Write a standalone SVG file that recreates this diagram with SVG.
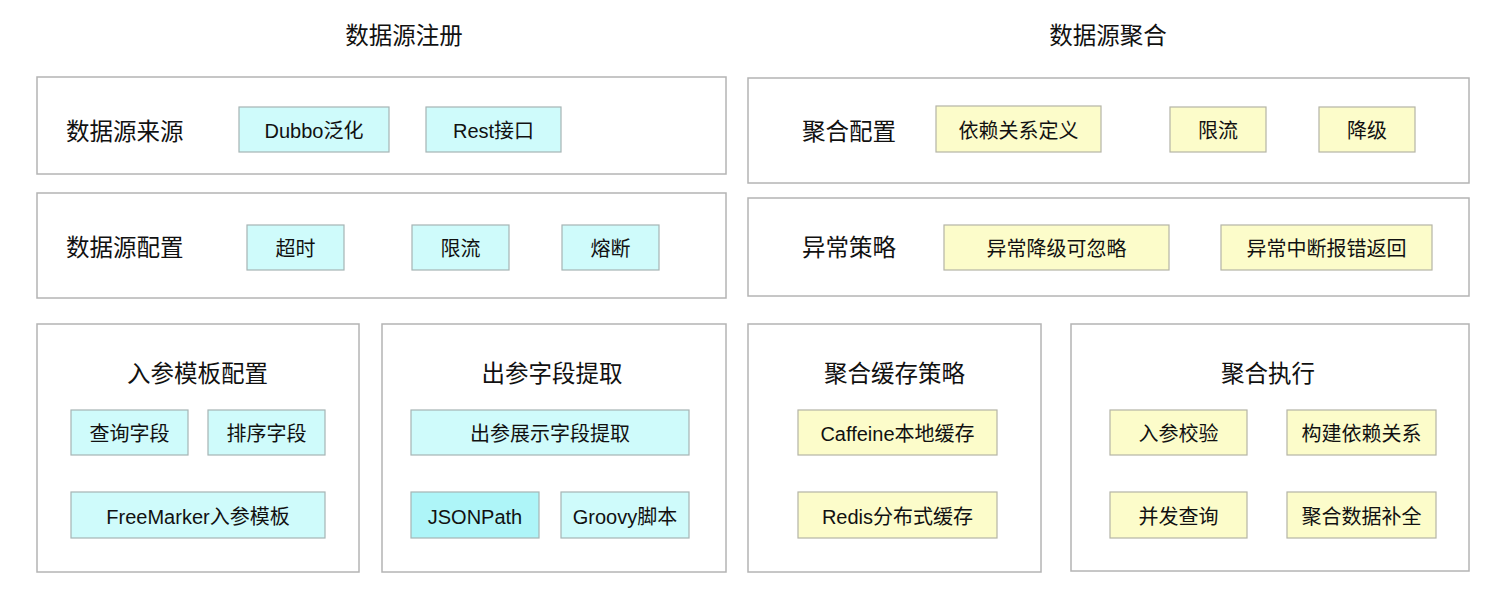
<svg xmlns="http://www.w3.org/2000/svg" width="1502" height="594" viewBox="0 0 1502 594">
<style>
text{font-family:"Liberation Sans","Noto Sans CJK SC",sans-serif;fill:#111;dominant-baseline:central}
.h{font-size:23.5px;text-anchor:middle}
.lbl{font-size:23.5px}
.t{font-size:20px;text-anchor:middle}
.panel{fill:#fff;stroke:#b4b4b4;stroke-width:1.5}
.c{fill:#cffbfb;stroke:#a6b4b4;stroke-width:1.2}
.c2{fill:#aef5f8;stroke:#a6b4b4;stroke-width:1.2}
.y{fill:#fcfcca;stroke:#b4b4a6;stroke-width:1.2}
</style>
<rect width="1502" height="594" fill="#fff"/>
<text class="h" x="404" y="36">数据源注册</text>
<text class="h" x="1108" y="36">数据源聚合</text>

<g id="ds-source">
<rect class="panel" x="37" y="77" width="689" height="97"/>
<text class="lbl" x="66" y="131.5">数据源来源</text>
<rect class="c" x="239" y="107" width="150" height="45"/><text class="t" x="314" y="131">Dubbo泛化</text>
<rect class="c" x="426" y="107" width="135" height="45"/><text class="t" x="493.5" y="131">Rest接口</text>
</g>

<g id="ds-config">
<rect class="panel" x="37" y="193" width="689" height="105"/>
<text class="lbl" x="66" y="248">数据源配置</text>
<rect class="c" x="247" y="225" width="97" height="45"/><text class="t" x="295.5" y="249">超时</text>
<rect class="c" x="412" y="225" width="97" height="45"/><text class="t" x="460.5" y="249">限流</text>
<rect class="c" x="562" y="225" width="97" height="45"/><text class="t" x="610.5" y="249">熔断</text>
</g>

<g id="in-template">
<rect class="panel" x="37" y="324" width="322" height="248"/>
<text class="h" x="197.5" y="373.5">入参模板配置</text>
<rect class="c" x="71" y="410" width="117" height="45"/><text class="t" x="129.5" y="434">查询字段</text>
<rect class="c" x="208" y="410" width="117" height="45"/><text class="t" x="266.5" y="434">排序字段</text>
<rect class="c" x="71" y="492" width="254" height="46"/><text class="t" x="198" y="516.5">FreeMarker入参模板</text>
</g>

<g id="out-extract">
<rect class="panel" x="382" y="324" width="344" height="248"/>
<text class="h" x="552" y="373.5">出参字段提取</text>
<rect class="c" x="411" y="410" width="278" height="45"/><text class="t" x="550" y="434">出参展示字段提取</text>
<rect class="c2" x="411" y="492" width="128" height="46"/><text class="t" x="475" y="516.5">JSONPath</text>
<rect class="c" x="561" y="492" width="128" height="46"/><text class="t" x="625" y="516.5">Groovy脚本</text>
</g>

<g id="agg-config">
<rect class="panel" x="748" y="78" width="721" height="105"/>
<text class="lbl" x="802" y="132">聚合配置</text>
<rect class="y" x="936" y="106" width="165" height="46"/><text class="t" x="1018.5" y="130.5">依赖关系定义</text>
<rect class="y" x="1170" y="107" width="96" height="45"/><text class="t" x="1218" y="131">限流</text>
<rect class="y" x="1319" y="107" width="96" height="45"/><text class="t" x="1367" y="131">降级</text>
</g>

<g id="exception">
<rect class="panel" x="748" y="198" width="721" height="98"/>
<text class="lbl" x="802" y="248">异常策略</text>
<rect class="y" x="944" y="225" width="225" height="45"/><text class="t" x="1056.5" y="249">异常降级可忽略</text>
<rect class="y" x="1221" y="225" width="211" height="45"/><text class="t" x="1326.5" y="249">异常中断报错返回</text>
</g>

<g id="agg-cache">
<rect class="panel" x="748" y="324" width="293" height="248"/>
<text class="h" x="894.5" y="373.5">聚合缓存策略</text>
<rect class="y" x="798" y="410" width="199" height="45"/><text class="t" x="897.5" y="434">Caffeine本地缓存</text>
<rect class="y" x="798" y="492" width="199" height="46"/><text class="t" x="897.5" y="516.5">Redis分布式缓存</text>
</g>

<g id="agg-exec">
<rect class="panel" x="1071" y="324" width="398" height="247"/>
<text class="h" x="1268" y="373.5">聚合执行</text>
<rect class="y" x="1110" y="410" width="137" height="45"/><text class="t" x="1178.5" y="434">入参校验</text>
<rect class="y" x="1287" y="410" width="149" height="45"/><text class="t" x="1361.5" y="434">构建依赖关系</text>
<rect class="y" x="1110" y="492" width="137" height="46"/><text class="t" x="1178.5" y="516.5">并发查询</text>
<rect class="y" x="1287" y="492" width="149" height="46"/><text class="t" x="1361.5" y="516.5">聚合数据补全</text>
</g>

<g id="connectors"></g>
</svg>
